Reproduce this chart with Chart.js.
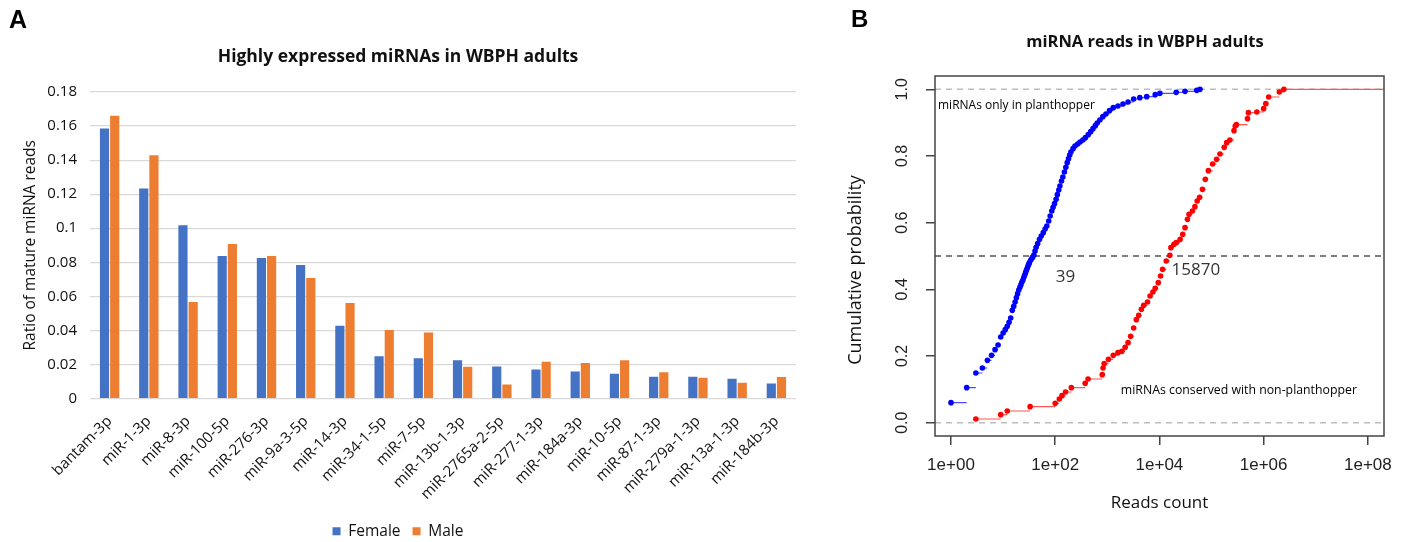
<!DOCTYPE html>
<html>
<head>
<meta charset="utf-8">
<script src="https://cdn.jsdelivr.net/npm/chart.js@4.4.1/dist/chart.umd.min.js"></script>
<style>
  html, body { margin: 0; padding: 0; background: #fff; }
  #wrap { position: relative; width: 1408px; height: 542px; overflow: hidden; }
  #chartA { position: absolute; left: 0; top: 0; }
  #chartB { position: absolute; left: 812px; top: 0; }
</style>
</head>
<body>
<div id="wrap">
  <canvas id="chartA" width="812" height="542"></canvas>
  <canvas id="chartB" width="596" height="542"></canvas>
</div>
<script>
// ---- Panel A data ----
const mirnas = ['bantam-3p', 'miR-1-3p', 'miR-8-3p', 'miR-100-5p', 'miR-276-3p', 'miR-9a-3-5p',
    'miR-14-3p', 'miR-34-1-5p', 'miR-7-5p', 'miR-13b-1-3p', 'miR-2765a-2-5p', 'miR-277-1-3p',
    'miR-184a-3p', 'miR-10-5p', 'miR-87-1-3p', 'miR-279a-1-3p', 'miR-13a-1-3p', 'miR-184b-3p'];
const femaleRatio = [0.1585, 0.1233, 0.1018, 0.0837, 0.0825, 0.0784, 0.0427, 0.0248, 0.0236,
    0.0224, 0.0188, 0.0170, 0.0158, 0.0146, 0.0128, 0.0128, 0.0116, 0.0088];
const maleRatio = [0.1660, 0.1428, 0.0567, 0.0908, 0.0837, 0.0707, 0.0561, 0.0402, 0.0388,
    0.0186, 0.0082, 0.0216, 0.0208, 0.0224, 0.0154, 0.0122, 0.0092, 0.0126];

// ---- Panel B data (reads count, cumulative probability) ----
const blueReads = [1, 2, 3, 4, 5, 6, 7, 8, 9, 10, 11, 12, 13, 14, 15, 16, 17, 18, 19, 20,
    21, 22, 23, 24, 25, 26, 27, 28, 29, 30, 31, 32, 34, 36, 37, 39, 41, 43, 46, 50,
    54, 59, 64, 69, 75, 80, 86, 91, 97, 104, 110, 117, 123, 132, 140, 150, 160, 170, 180, 190,
    200, 220, 240, 270, 300, 340, 380, 430, 480, 530, 590, 640, 720, 820, 940, 1100, 1300, 1600, 2000, 2500,
    3200, 4200, 5700, 8300, 10200, 21000, 31000, 52000, 60000];
const blueProb = [0.060, 0.105, 0.149, 0.164, 0.187, 0.202, 0.219, 0.233, 0.257, 0.269, 0.279, 0.289, 0.301, 0.314, 0.337, 0.349, 0.362, 0.375, 0.387, 0.398,
    0.406, 0.414, 0.422, 0.428, 0.436, 0.443, 0.450, 0.457, 0.463, 0.469, 0.475, 0.480, 0.488, 0.494, 0.497, 0.503, 0.515, 0.526, 0.537, 0.550,
    0.560, 0.570, 0.581, 0.590, 0.605, 0.620, 0.635, 0.646, 0.657, 0.670, 0.684, 0.698, 0.710, 0.725, 0.737, 0.752, 0.766, 0.780, 0.792, 0.803,
    0.812, 0.822, 0.830, 0.836, 0.842, 0.848, 0.855, 0.864, 0.873, 0.882, 0.891, 0.899, 0.908, 0.918, 0.926, 0.936, 0.945, 0.950, 0.956, 0.962,
    0.971, 0.975, 0.978, 0.984, 0.988, 0.991, 0.994, 0.997, 1.000];
const redReads = [3, 9, 12, 33, 100, 120, 135, 158, 204, 376, 427, 800, 830, 870, 1050, 1300, 1600, 1900, 2200, 2500,
    2800, 3200, 3600, 4000, 4500, 5000, 5900, 6600, 7500, 8300, 9500, 10500, 11500, 13500, 15870, 16600, 19000, 21000, 25000, 28000,
    31000, 34500, 37000, 43000, 48000, 53000, 59000, 67000, 76000, 87000, 105000, 125000, 145000, 175000, 195000, 225000, 270000, 285000, 300000, 490000,
    510000, 740000, 1000000, 1100000, 1250000, 2000000, 2450000];
const redProb = [0.011, 0.024, 0.035, 0.048, 0.058, 0.071, 0.081, 0.092, 0.105, 0.118, 0.131, 0.144, 0.164, 0.177, 0.190, 0.202, 0.210, 0.214, 0.226, 0.240,
    0.259, 0.284, 0.309, 0.322, 0.340, 0.352, 0.362, 0.380, 0.392, 0.403, 0.420, 0.440, 0.460, 0.485, 0.502, 0.525, 0.535, 0.540, 0.550, 0.565,
    0.585, 0.610, 0.625, 0.635, 0.648, 0.665, 0.676, 0.700, 0.730, 0.756, 0.776, 0.790, 0.806, 0.826, 0.840, 0.848, 0.876, 0.890, 0.894, 0.912,
    0.930, 0.932, 0.942, 0.957, 0.977, 0.992, 1.000];
const readTicks = [1, 1e2, 1e4, 1e6, 1e8];
const probTicks = [0, 0.2, 0.4, 0.6, 0.8, 1.0];
const medianLabels = [
    { text: '39', x: 158, y: 0.438 },
    { text: '15870', x: 50000, y: 0.458 }
];

const fontA = "'Open Sans', 'Noto Sans', sans-serif";
const fontR = "'Liberation Sans', Arial, sans-serif";

// Panel letter for A
const panelA = {
    id: 'panelA',
    afterDraw(chart) {
        const ctx = chart.ctx;
        ctx.save();
        ctx.fillStyle = '#000';
        ctx.font = 'bold 25px ' + fontR;
        ctx.textBaseline = 'alphabetic';
        ctx.fillText('A', 9, 28);
        ctx.restore();
    }
};

new Chart(document.getElementById('chartA'), {
    type: 'bar',
    data: {
        labels: mirnas,
        datasets: [
            { label: 'Female', data: femaleRatio, backgroundColor: '#4472C4' },
            { label: 'Male', data: maleRatio, backgroundColor: '#ED7D31' }
        ]
    },
    options: {
        responsive: false,
        animation: false,
        layout: { padding: { left: 0, right: 16, top: 0, bottom: -7 } },
        datasets: { bar: { categoryPercentage: 0.52, barPercentage: 0.9 } },
        plugins: {
            title: {
                display: true,
                text: 'Highly expressed miRNAs in WBPH adults',
                color: '#111',
                font: { family: fontA, size: 17.5, weight: 'bold' },
                padding: { top: 47, bottom: 24 }
            },
            legend: {
                position: 'bottom',
                labels: {
                    boxWidth: 8, boxHeight: 8, padding: 12, color: '#111',
                    font: { family: fontA, size: 15.5 }
                }
            },
            tooltip: { enabled: false }
        },
        scales: {
            x: {
                grid: { display: false },
                border: { display: false },
                ticks: {
                    autoSkip: false, minRotation: 45, maxRotation: 45, padding: 6,
                    color: '#111', font: { family: fontA, size: 15 }
                },
                afterFit: s => { s.height = 113; }
            },
            y: {
                min: 0, max: 0.18,
                grid: { color: '#D9D9D9', lineWidth: 1.2, drawTicks: false },
                border: { display: false },
                ticks: {
                    stepSize: 0.02, padding: 13, color: '#111',
                    font: { family: fontA, size: 15 },
                    callback: v => String(Number(v.toFixed(2)))
                },
                title: {
                    display: true, text: 'Ratio of mature miRNA reads', color: '#111',
                    font: { family: fontA, size: 15.5 }, padding: { top: 21, bottom: 0 }
                },
                afterFit: s => { s.width = 90; }
            }
        }
    },
    plugins: [panelA]
});

// R-style decorations for B
const panelB = {
    id: 'panelB',
    beforeDatasetsDraw(chart) {
        const { ctx, chartArea: a, scales: { y } } = chart;
        ctx.save();
        ctx.setLineDash([6, 5]);
        ctx.lineWidth = 1.5;
        [[0, '#BDBDBD'], [1, '#BDBDBD'], [0.5, '#555']].forEach(([v, c]) => {
            const py = y.getPixelForValue(v);
            ctx.strokeStyle = c;
            ctx.beginPath();
            ctx.moveTo(a.left, py);
            ctx.lineTo(a.right, py);
            ctx.stroke();
        });
        ctx.setLineDash([]);
        // ecdf horizontal steps (no verticals, like plot.ecdf)
        ctx.lineWidth = 1.2;
        [[0, '#4D4DFF', false], [1, '#FF5555', true]].forEach(([i, c, toEdge]) => {
            const pts = chart.getDatasetMeta(i).data;
            ctx.strokeStyle = c;
            ctx.beginPath();
            pts.forEach((p, k) => {
                const nextX = k < pts.length - 1 ? pts[k + 1].x : (toEdge ? a.right : p.x);
                ctx.moveTo(p.x, p.y);
                ctx.lineTo(nextX, p.y);
            });
            ctx.stroke();
        });
        ctx.restore();
    },
    afterDatasetsDraw(chart) {
        const { ctx, chartArea: a, scales: { x, y } } = chart;
        ctx.save();
        // box
        ctx.strokeStyle = '#444';
        ctx.lineWidth = 1.5;
        ctx.strokeRect(a.left, a.top, a.right - a.left, a.bottom - a.top);
        // y tick labels (parallel to axis, like R)
        ctx.fillStyle = '#222';
        ctx.font = '16px ' + fontR;
        ctx.textAlign = 'center';
        ctx.textBaseline = 'middle';
        probTicks.forEach(v => {
            ctx.save();
            ctx.translate(a.left - 32, y.getPixelForValue(v));
            ctx.rotate(-Math.PI / 2);
            ctx.fillText(v.toFixed(1), 0, 0);
            ctx.restore();
        });
        // y axis title
        ctx.save();
        ctx.fillStyle = '#111';
        ctx.font = '18px ' + fontA;
        ctx.translate(44, (a.top + a.bottom) / 2 + 14);
        ctx.rotate(-Math.PI / 2);
        ctx.fillText('Cumulative probability', 0, 0);
        ctx.restore();
        // median labels
        ctx.fillStyle = '#333';
        ctx.font = '17px ' + fontA;
        medianLabels.forEach(m => {
            ctx.fillText(m.text, x.getPixelForValue(m.x), y.getPixelForValue(m.y));
        });
        // group annotations
        ctx.fillStyle = '#000';
        ctx.textAlign = 'left';
        ctx.font = '12px ' + fontA;
        ctx.fillText('miRNAs only in planthopper', a.left + 3, y.getPixelForValue(0.952));
        ctx.font = '12.3px ' + fontA;
        ctx.fillText('miRNAs conserved with non-planthopper', x.getPixelForValue(1820), y.getPixelForValue(0.096));
        // title and panel letter
        ctx.textAlign = 'center';
        ctx.fillStyle = '#111';
        ctx.font = 'bold 16.5px ' + fontA;
        ctx.fillText('miRNA reads in WBPH adults', a.left + 210, 42);
        ctx.textAlign = 'left';
        ctx.textBaseline = 'alphabetic';
        ctx.fillStyle = '#000';
        ctx.font = 'bold 24px ' + fontR;
        ctx.fillText('B', 39, 27);
        ctx.restore();
    }
};

const toPoints = (xs, ys) => xs.map((v, i) => ({ x: v, y: ys[i] }));

new Chart(document.getElementById('chartB'), {
    type: 'scatter',
    data: {
        datasets: [
            {
                label: 'miRNAs only in planthopper',
                data: toPoints(blueReads, blueProb),
                backgroundColor: '#0000FF', pointBorderWidth: 0, pointRadius: 2.8
            },
            {
                label: 'miRNAs conserved with non-planthopper',
                data: toPoints(redReads, redProb),
                backgroundColor: '#FF0000', pointBorderWidth: 0, pointRadius: 2.8
            }
        ]
    },
    options: {
        responsive: false,
        animation: false,
        layout: { padding: { left: 0, right: 24, top: 76, bottom: 26 } },
        plugins: { legend: { display: false }, tooltip: { enabled: false } },
        scales: {
            x: {
                type: 'logarithmic',
                min: Math.pow(10, -0.307), max: Math.pow(10, 8.31),
                afterBuildTicks: s => { s.ticks = readTicks.map(v => ({ value: v })); },
                grid: { drawOnChartArea: false, drawTicks: true, tickLength: 9, color: '#444', lineWidth: 1.5 },
                border: { display: false },
                ticks: {
                    padding: 10, color: '#222', maxRotation: 0, autoSkip: false,
                    font: { family: fontR, size: 17 },
                    callback: v => '1e+' + String(Math.round(Math.log10(v))).padStart(2, '0')
                },
                title: {
                    display: true, text: 'Reads count', color: '#111',
                    font: { family: fontA, size: 17 }, padding: { top: 0, bottom: 3 }
                },
                afterFit: s => { s.height = 80; }
            },
            y: {
                min: -0.04, max: 1.04,
                afterBuildTicks: s => { s.ticks = probTicks.map(v => ({ value: v })); },
                grid: { drawOnChartArea: false, drawTicks: true, tickLength: 9, color: '#444', lineWidth: 1.5 },
                border: { display: false },
                ticks: { display: false },
                afterFit: s => { s.width = 123; }
            }
        }
    },
    plugins: [panelB]
});
</script>
</body>
</html>
